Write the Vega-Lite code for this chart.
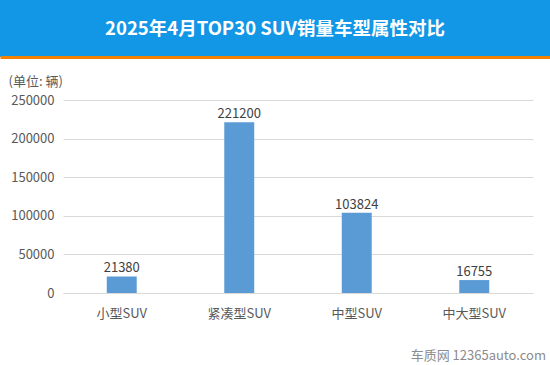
{
  "$schema": "https://vega.github.io/schema/vega-lite/v6.json",
  "padding": 0,
  "background": "white",
  "spacing": 18,
  "config": {"view": {"stroke": null}, "font": "Noto Sans CJK SC"},
  "vconcat": [
    {
      "width": 550,
      "height": 57,
      "view": {"fill": "#1296e6", "stroke": null},
      "data": {"values": [{"title": "2025年4月TOP30 SUV销量车型属性对比"}]},
      "mark": {"type": "text", "color": "white", "fontSize": 18.5, "fontWeight": "bold", "font": "Noto Sans CJK SC"},
      "encoding": {
        "text": {"field": "title"},
        "x": {
          "datum": 0.5,
          "type": "quantitative",
          "scale": {"domain": [0, 1]},
          "axis": {"domain": true, "domainColor": "#f08200", "domainWidth": 3, "labels": false, "ticks": false, "grid": false, "title": null}
        }
      }
    },
    {
      "spacing": 0,
      "hconcat": [
        {
          "width": 1,
          "height": 1,
          "data": {"values": []},
          "mark": "point"
        },
        {
          "width": 470,
          "height": 193,
          "data": {"values": [
            {"type": "小型SUV", "sales": 21380},
            {"type": "紧凑型SUV", "sales": 221200},
            {"type": "中型SUV", "sales": 103824},
            {"type": "中大型SUV", "sales": 16755}
          ]},
          "title": {
            "text": "车质网 12365auto.com",
            "orient": "bottom",
            "anchor": "end",
            "fontSize": 13,
            "fontWeight": "normal",
            "color": "#8c8c8c",
            "font": "Noto Sans CJK SC",
            "dx": 13,
            "offset": 30
          },
          "encoding": {
            "x": {
              "field": "type",
              "type": "nominal",
              "sort": null,
              "scale": {"paddingInner": 0.745, "paddingOuter": 0.3725},
              "axis": {"labelAngle": 0, "domain": true, "domainColor": "#d9d9d9", "ticks": false, "labelPadding": 14, "title": null, "labelColor": "#595959", "labelFontSize": 13, "labelFont": "Noto Sans CJK SC"}
            },
            "y": {
              "field": "sales",
              "type": "quantitative",
              "scale": {"domain": [0, 250000]},
              "axis": {
                "values": [0, 50000, 100000, 150000, 200000, 250000],
                "format": "d",
                "domain": false,
                "ticks": false,
                "minExtent": 62,
                "gridColor": "#d9d9d9",
                "labelColor": "#595959",
                "labelFontSize": 13,
                "labelFont": "Noto Sans CJK SC",
                "labelPadding": 9,
                "title": "(单位: 辆)",
                "titleAngle": 0,
                "titleAlign": "left",
                "titleBaseline": "middle",
                "titleX": -55,
                "titleY": -19,
                "titleFontSize": 13,
                "titleFontWeight": "normal",
                "titleColor": "#595959",
                "titleFont": "Noto Sans CJK SC"
              }
            }
          },
          "layer": [
            {"mark": {"type": "bar", "color": "#5b9bd5"}},
            {
              "mark": {"type": "text", "baseline": "bottom", "dy": -1, "fontSize": 13, "color": "#404040", "font": "Noto Sans CJK SC"},
              "encoding": {"text": {"field": "sales", "type": "quantitative", "format": "d"}}
            }
          ]
        }
      ]
    }
  ]
}
